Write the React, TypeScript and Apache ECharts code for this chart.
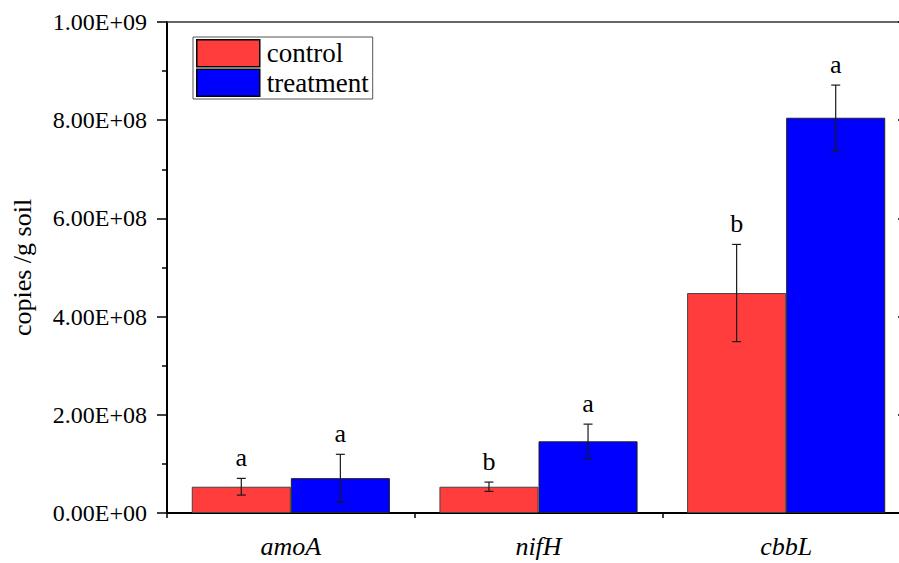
import React, { useEffect, useRef } from "react";
import * as echarts from "echarts";

const categories = ["amoA", "nifH", "cbbL"];
const controlValues = [5.35e7, 5.35e7, 4.48e8];
const controlErrors = [1.7e7, 0.95e7, 0.99e8];
const treatmentValues = [7.1e7, 1.46e8, 8.05e8];
const treatmentErrors = [4.85e7, 3.5e7, 6.65e7];
const controlLetters = ["a", "b", "b"];
const treatmentLetters = ["a", "a", "a"];
const seriesNames = ["control", "treatment"];
const yTicks = [0, 2e8, 4e8, 6e8, 8e8, 1e9];

const FONT = '"Liberation Serif", "Times New Roman", serif';

function fmt(v: number): string {
  if (v === 0) return "0.00E+00";
  const e = Math.floor(Math.log10(v) + 1e-9);
  const m = v / Math.pow(10, e);
  return m.toFixed(2) + "E+" + String(e).padStart(2, "0");
}

function makeErrSeries(name: string, values: number[], errs: number[], letters: string[], sign: number) {
  return {
    type: "custom",
    name,
    xAxisIndex: 0,
    yAxisIndex: 0,
    z: 10,
    data: values.map((v, i) => [i, v, errs[i]]),
    renderItem: (params: any, api: any) => {
      const idx = api.value(0);
      const val = api.value(1);
      const err = api.value(2);
      const band = api.size([1, 0])[0];
      const barW = (band * 0.8) / 2;
      const cx = api.coord([idx, val])[0] + (sign * barW) / 2;
      const top = api.coord([idx, val + err])[1];
      const bot = api.coord([idx, val - err])[1];
      const cap = 4.5;
      const ls = { stroke: "#1a1a1a", lineWidth: 1.2 };
      return {
        type: "group",
        children: [
          { type: "line", shape: { x1: cx, y1: top, x2: cx, y2: bot }, style: ls },
          { type: "line", shape: { x1: cx - cap, y1: top, x2: cx + cap, y2: top }, style: ls },
          { type: "line", shape: { x1: cx - cap, y1: bot, x2: cx + cap, y2: bot }, style: ls },
          {
            type: "text",
            style: {
              text: letters[params.dataIndex],
              x: cx,
              y: top - 8,
              align: "center",
              verticalAlign: "bottom",
              fontSize: 26,
              fontFamily: FONT,
              fill: "#000",
            },
          },
        ],
      };
    },
  };
}

export default function App() {
  const ref = useRef<HTMLDivElement>(null);
  useEffect(() => {
    if (!ref.current) return;
    const chart = echarts.init(ref.current, undefined, { renderer: "svg" });
    chart.setOption({
      animation: false,
      backgroundColor: "#fff",
      grid: { left: 167, top: 22, right: 0, bottom: 50, containLabel: false },
      legend: {
        data: seriesNames,
        orient: "vertical",
        left: 193,
        top: 37,
        padding: [2, 4, 2, 3],
        itemGap: 1,
        itemWidth: 63,
        itemHeight: 27,
        icon: "rect",
        borderColor: "#555",
        borderWidth: 1,
        itemStyle: { borderColor: "#000", borderWidth: 1.5 },
        textStyle: { fontFamily: FONT, fontSize: 27, color: "#000", padding: [0, 0, 0, 2] },
      },
      xAxis: [
        {
          type: "category",
          position: "bottom",
          data: categories,
          axisLine: { onZero: false, lineStyle: { color: "#000", width: 2 } },
          axisTick: { alignWithLabel: true, length: 9, lineStyle: { color: "#000", width: 1.5 } },
          axisLabel: { fontFamily: FONT, fontSize: 26, fontStyle: "italic", color: "#000", margin: 20 },
        },
        {
          type: "category",
          position: "bottom",
          data: categories,
          axisLine: { show: false, onZero: false },
          axisTick: { show: true, length: 5, lineStyle: { color: "#000", width: 1.5 } },
          axisLabel: { show: false },
        },
        {
          type: "category",
          position: "top",
          data: categories,
          axisLine: { onZero: false, lineStyle: { color: "#333", width: 1.5 } },
          axisTick: { show: false },
          axisLabel: { show: false },
        },
      ],
      yAxis: [
        {
          type: "value",
          position: "left",
          min: 0,
          max: 1e9,
          interval: 2e8,
          name: "copies /g soil",
          nameLocation: "middle",
          nameGap: 132,
          nameTextStyle: { fontFamily: FONT, fontSize: 26, color: "#000" },
          axisLine: { show: true, lineStyle: { color: "#000", width: 2 } },
          axisTick: { show: true, length: 10, lineStyle: { color: "#000", width: 1.5 } },
          minorTick: { show: true, splitNumber: 2, length: 5, lineStyle: { color: "#000", width: 1.5 } },
          splitLine: { show: false },
          axisLabel: {
            fontFamily: FONT,
            fontSize: 24,
            color: "#000",
            margin: 20,
            formatter: (v: number) => (yTicks.indexOf(v) >= 0 ? fmt(v) : ""),
          },
        },
        {
          type: "value",
          position: "right",
          min: 0,
          max: 1e9,
          interval: 2e8,
          axisLine: { show: true, lineStyle: { color: "#333", width: 1.5 } },
          axisTick: { show: true, inside: true, length: 12, lineStyle: { color: "#000", width: 1.5 } },
          splitLine: { show: false },
          axisLabel: { show: false },
        },
      ],
      series: [
        {
          type: "bar",
          name: seriesNames[0],
          data: controlValues,
          barGap: "0%",
          barCategoryGap: "20%",
          itemStyle: { color: "#FF3D3D", borderColor: "#444", borderWidth: 1 },
        },
        {
          type: "bar",
          name: seriesNames[1],
          data: treatmentValues,
          barGap: "0%",
          barCategoryGap: "20%",
          itemStyle: { color: "#0000FF", borderColor: "#222", borderWidth: 1 },
        },
        makeErrSeries("err-control", controlValues, controlErrors, controlLetters, -1),
        makeErrSeries("err-treatment", treatmentValues, treatmentErrors, treatmentLetters, 1),
      ],
    });
    return () => chart.dispose();
  }, []);
  return (
    <div
      ref={ref}
      style={{ position: "fixed", left: 0, top: 0, width: 910, height: 563 }}
    />
  );
}
